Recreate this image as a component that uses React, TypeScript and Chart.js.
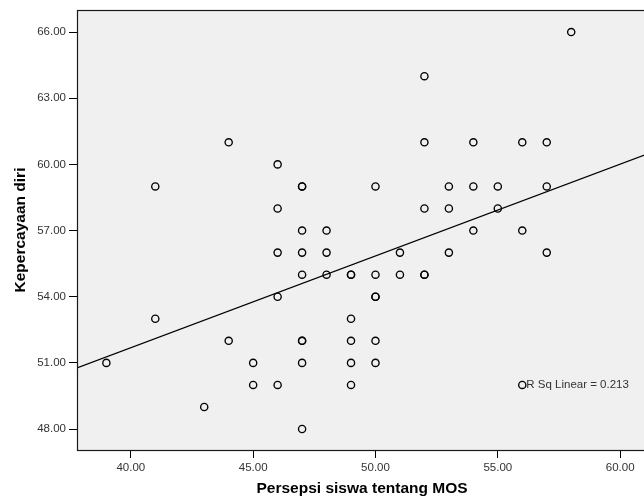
import { useEffect, useRef } from "react";
import { Chart, registerables } from "chart.js";

Chart.register(...registerables);

// Persepsi siswa tentang MOS (x) and Kepercayaan diri (y), one entry per student
const perceptionScores = [
  39,
  41, 41,
  43,
  44, 44,
  45, 45,
  46, 46, 46, 46, 46,
  47, 47, 47, 47, 47, 47, 47, 47, 47,
  48, 48, 48,
  49, 49, 49, 49, 49, 49,
  50, 50, 50, 50, 50, 50,
  51, 51,
  52, 52, 52, 52, 52,
  53, 53, 53,
  54, 54, 54,
  55, 55,
  56, 56, 56,
  57, 57, 57,
  58,
];
const confidenceScores = [
  51,
  59, 53,
  49,
  61, 52,
  51, 50,
  60, 58, 56, 54, 50,
  59, 59, 57, 56, 55, 52, 52, 51, 48,
  57, 56, 55,
  55, 55, 53, 52, 51, 50,
  59, 55, 54, 54, 52, 51,
  56, 55,
  64, 61, 58, 55, 55,
  59, 58, 56,
  61, 59, 57,
  59, 58,
  61, 57, 50,
  61, 59, 56,
  66,
];

const xTicks = [40, 45, 50, 55, 60];
const yTicks = [48, 51, 54, 57, 60, 63, 66];
const xRange = [37.8, 61.1];
const yRange = [47.05, 67.0];

const fitIntercept = 35.05;
const fitSlope = 0.416;
const fitLabel = "R Sq Linear = 0.213";
const fitLabelAnchor = [56, 50];

const xTitle = "Persepsi siswa tentang MOS";
const yTitle = "Kepercayaan diri";

export default function App() {
  const ref = useRef<HTMLCanvasElement | null>(null);

  useEffect(() => {
    document.body.style.margin = "0";
    const canvas = ref.current;
    if (!canvas) return;

    const points = perceptionScores.map((x, i) => ({ x, y: confidenceScores[i] }));
    const fitLine = xRange.map((x) => ({ x, y: fitIntercept + fitSlope * x }));

    const framePlugin = {
      id: "spssFrame",
      beforeDraw(chart: any) {
        const { ctx, chartArea: a } = chart;
        ctx.save();
        ctx.fillStyle = "#f0f0f0";
        ctx.fillRect(a.left, a.top, a.right - a.left, a.bottom - a.top);
        ctx.restore();
      },
      afterDraw(chart: any) {
        const { ctx, chartArea: a, scales } = chart;
        ctx.save();
        ctx.strokeStyle = "#1a1a1a";
        ctx.lineWidth = 1.2;
        ctx.strokeRect(a.left + 0.5, a.top + 0.5, a.right - a.left, a.bottom - a.top);
        ctx.fillStyle = "#333";
        ctx.font = "11.5px 'Liberation Sans', Arial, sans-serif";
        ctx.textBaseline = "middle";
        ctx.textAlign = "left";
        const px = scales.x.getPixelForValue(fitLabelAnchor[0]) + 4;
        const py = scales.y.getPixelForValue(fitLabelAnchor[1]);
        ctx.fillText(fitLabel, px, py);
        ctx.restore();
      },
    };

    const chart = new Chart(canvas, {
      type: "scatter",
      data: {
        datasets: [
          {
            type: "scatter",
            data: points,
            pointStyle: "circle",
            pointRadius: 3.6,
            pointHoverRadius: 3.6,
            pointBorderWidth: 1.35,
            pointBorderColor: "#000",
            pointBackgroundColor: "rgba(0,0,0,0)",
            order: 1,
          } as any,
          {
            type: "line",
            data: fitLine,
            borderColor: "#000",
            borderWidth: 1.2,
            pointRadius: 0,
            fill: false,
            order: 2,
          } as any,
        ],
      },
      options: {
        animation: false,
        responsive: false,
        maintainAspectRatio: false,
        layout: { padding: { top: 10, right: 0, left: 0, bottom: 0 } },
        plugins: { legend: { display: false }, tooltip: { enabled: false } },
        scales: {
          x: {
            type: "linear",
            min: xRange[0],
            max: xRange[1],
            afterBuildTicks: (s: any) => {
              s.ticks = xTicks.map((v) => ({ value: v }));
            },
            afterFit: (s: any) => {
              s.height = 53;
            },
            grid: { drawOnChartArea: false, drawTicks: true, tickLength: 8, color: "#000" },
            border: { display: false },
            ticks: {
              padding: 3,
              color: "#333",
              font: { family: "'Liberation Sans', Arial, sans-serif", size: 11.5 },
              callback: (v: any) => Number(v).toFixed(2),
              maxRotation: 0,
              autoSkip: false,
            },
            title: {
              display: true,
              text: xTitle,
              color: "#000",
              font: { family: "'Liberation Sans', Arial, sans-serif", size: 15.5, weight: "bold" },
              padding: { top: 0, bottom: 5 },
            },
          },
          y: {
            type: "linear",
            min: yRange[0],
            max: yRange[1],
            afterBuildTicks: (s: any) => {
              s.ticks = yTicks.map((v) => ({ value: v }));
            },
            afterFit: (s: any) => {
              s.width = 77;
            },
            grid: { drawOnChartArea: false, drawTicks: true, tickLength: 8, color: "#000" },
            border: { display: false },
            ticks: {
              padding: 3,
              color: "#333",
              font: { family: "'Liberation Sans', Arial, sans-serif", size: 11.5 },
              callback: (v: any) => Number(v).toFixed(2),
              autoSkip: false,
            },
            title: {
              display: true,
              text: yTitle,
              color: "#000",
              font: { family: "'Liberation Sans', Arial, sans-serif", size: 15.5, weight: "bold" },
              padding: { top: 11, bottom: 0 },
            },
          },
        },
      },
      plugins: [framePlugin],
    });

    return () => chart.destroy();
  }, []);

  return (
    <div style={{ width: 644, height: 503, overflow: "hidden", background: "#fff" }}>
      <canvas ref={ref} width={652} height={503} style={{ display: "block", width: 652, height: 503 }} />
    </div>
  );
}
